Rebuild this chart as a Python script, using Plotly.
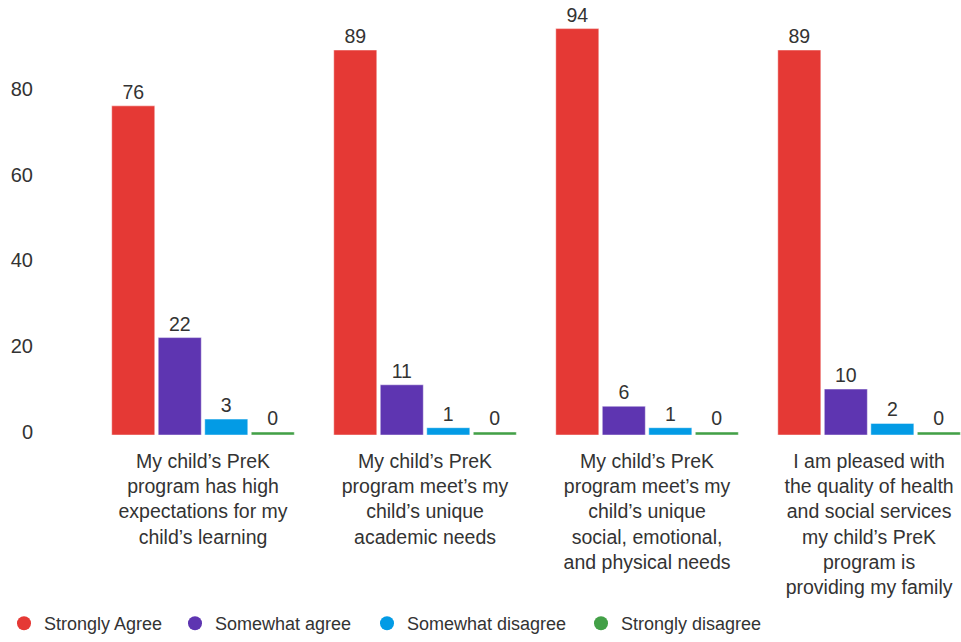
import plotly.graph_objects as go

categories = [
    "My child’s PreK<br>program has high<br>expectations for my<br>child’s learning",
    "My child’s PreK<br>program meet’s my<br>child’s unique<br>academic needs",
    "My child’s PreK<br>program meet’s my<br>child’s unique<br>social, emotional,<br>and physical needs",
    "I am pleased with<br>the quality of health<br>and social services<br>my child’s PreK<br>program is<br>providing my family",
]
series_names = ["Strongly Agree", "Somewhat agree", "Somewhat disagree", "Strongly disagree"]
strongly_agree = [76, 89, 94, 89]
somewhat_agree = [22, 11, 6, 10]
somewhat_disagree = [3, 1, 1, 2]
strongly_disagree = [0, 0, 0, 0]
colors = ["#E53935", "#5E35B1", "#039BE5", "#43A047"]
y_ticks = [0, 20, 40, 60, 80]

FONT = "Liberation Sans, Arial, sans-serif"
TEXT_COLOR = "#333333"

# bars start a hair below zero so that zero values remain visible as a sliver
BASE = -0.7

fig = go.Figure()
for name, vals, col in zip(series_names,
                           [strongly_agree, somewhat_agree, somewhat_disagree, strongly_disagree],
                           colors):
    fig.add_trace(go.Bar(
        name=name,
        x=list(range(len(categories))),
        y=[v - BASE for v in vals],
        base=BASE,
        text=[str(v) for v in vals],
        textposition="outside",
        textfont=dict(size=19.5, color=TEXT_COLOR, family=FONT),
        cliponaxis=False,
        marker=dict(color=col, line=dict(color="rgba(255,255,255,0.45)", width=1)),
        hovertemplate="%{text}<extra>" + name + "</extra>",
        showlegend=False,
    ))

# round legend keys, one small legend per series so the spacing can be set
legend_x = [4, 175, 367, 581]  # left edge of each legend entry, px
legend_layout = {}
for i, (name, col) in enumerate(zip(series_names, colors)):
    key = "legend" if i == 0 else f"legend{i + 1}"
    fig.add_trace(go.Scatter(
        x=[None], y=[None], mode="markers", name=name,
        marker=dict(symbol="circle", size=14, color=col),
        legend=key,
    ))
    legend_layout[key] = dict(
        orientation="h",
        xref="container", x=legend_x[i] / 961, xanchor="left",
        yref="container", y=0.0, yanchor="bottom",
        font=dict(size=18, color=TEXT_COLOR),
        bgcolor="rgba(0,0,0,0)",
    )

fig.update_layout(
    width=961, height=642,
    margin=dict(l=92, r=0, t=5, b=207),
    barmode="group",
    bargap=0.162,
    bargroupgap=0.075,
    plot_bgcolor="white",
    paper_bgcolor="white",
    font=dict(family=FONT, size=19, color=TEXT_COLOR),
    showlegend=True,
    xaxis=dict(
        range=[-0.5, 3.414],
        tickmode="array",
        tickvals=list(range(len(categories))),
        ticktext=categories,
        showgrid=False, zeroline=False, showline=False, ticks="",
        tickfont=dict(size=19.5, color=TEXT_COLOR),
        ticklabelstandoff=12,
    ),
    yaxis=dict(
        range=[BASE, 99.5],
        tickvals=y_ticks,
        showgrid=False, zeroline=False, showline=False, ticks="",
        tickfont=dict(size=20, color=TEXT_COLOR),
        ticklabelstandoff=58,
    ),
    **legend_layout,
)

fig.write_html("out.html")
